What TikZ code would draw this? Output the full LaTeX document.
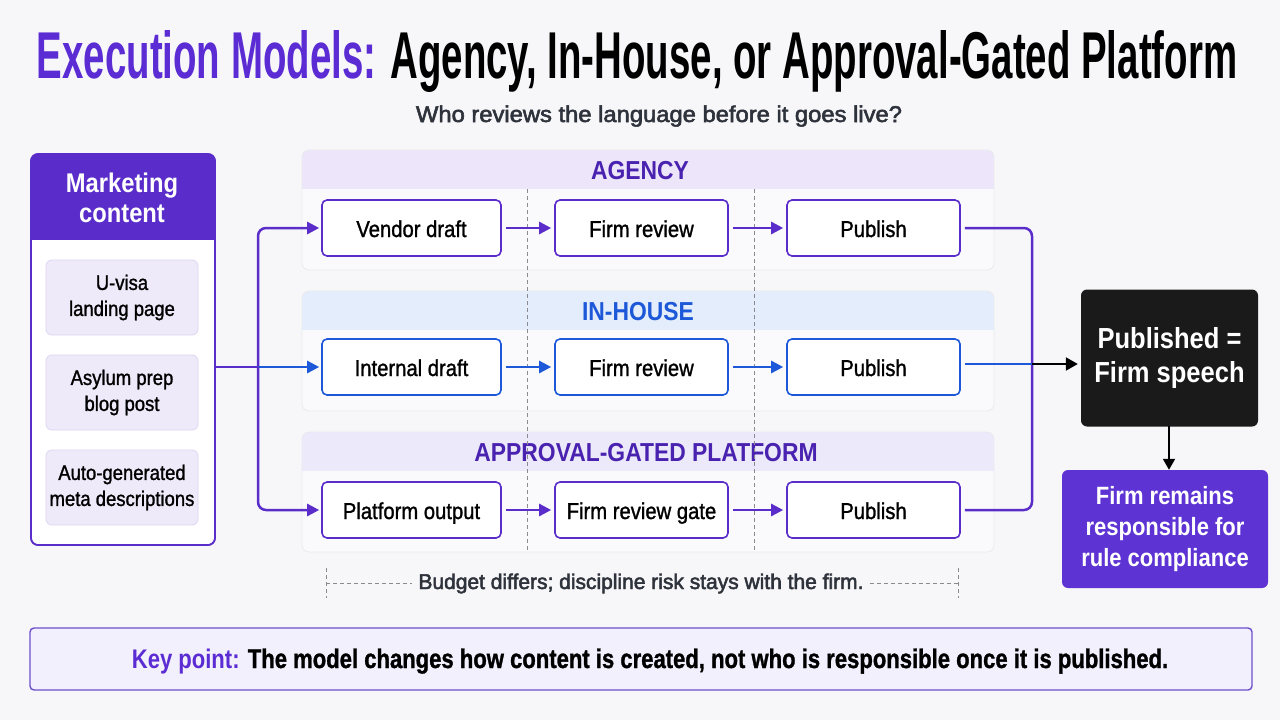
\documentclass[tikz,border=0pt]{standalone}
\usepackage{fontspec}
\setmainfont[FakeStretch=0.88]{Liberation Sans}
\newfontfamily\medf[FakeStretch=0.88,RawFeature={embolden=1.2}]{Liberation Sans}
\newfontfamily\semif[FakeStretch=0.88,RawFeature={embolden=2.2}]{Liberation Sans}
\usetikzlibrary{arrows.meta,calc}
\definecolor{bg}{HTML}{F7F7F9}
\definecolor{pur}{HTML}{5A2DCB}
\definecolor{ttl}{HTML}{5B2BD3}
\definecolor{blu}{HTML}{1D58D8}
\definecolor{hdrA}{HTML}{EDE6FA}
\definecolor{hdrB}{HTML}{E3EDFC}
\definecolor{hdrC}{HTML}{EBE9FA}
\definecolor{lanebody}{HTML}{FAFAFC}
\definecolor{laneline}{HTML}{EAEAF0}
\definecolor{itemfill}{HTML}{EEEAF9}
\definecolor{itemline}{HTML}{DDD6F1}
\definecolor{kpfill}{HTML}{F3F0FD}
\definecolor{kpline}{HTML}{6B4FCB}
\definecolor{dark}{HTML}{1A1A1A}
\definecolor{subc}{HTML}{2E323B}
\definecolor{firmc}{HTML}{5E33D3}
\definecolor{laneA}{HTML}{4A22B0}
\definecolor{sepc}{HTML}{8A8A90}
\begin{document}
\begin{tikzpicture}[x=1pt,y=-1pt,
  stepbox/.style={draw, rounded corners=5pt, fill=white, line width=1.6pt,
    minimum height=56pt, inner sep=0pt, text height=20pt, text depth=2pt,
    font=\medf\fontsize{23}{26}\selectfont},
  itembox/.style={draw=itemline, fill=itemfill, rounded corners=6pt, line width=0.8pt,
    minimum width=152pt, minimum height=75pt, inner sep=0pt, align=center,
    font=\medf\fontsize{21}{26}\selectfont},
  lanehdr/.style={font=\bfseries\fontsize{26}{28}\selectfont, inner sep=0pt},
  tip/.style={-{Triangle[length=12pt,width=12pt]}},
  flowP/.style={draw=pur, line width=2.5pt, tip},
  flowB/.style={draw=blu, line width=2.5pt, tip},
  sepline/.style={draw=sepc, line width=0.9pt, dash pattern=on 4pt off 3pt},
]
\useasboundingbox (0,0) rectangle (1280,720);
\fill[bg] (0,0) rectangle (1280,720);

% Title
\node[anchor=base, inner sep=0pt] (title) at (637,78)
  {\resizebox{1200pt}{48pt}{\bfseries\color{ttl}Execution Models: \color{black}Agency, In-House, or Approval-Gated Platform}};
\node[anchor=base, inner sep=0pt] (subtitle) at (659,122)
  {\resizebox{486pt}{16.5pt}{\semif\color{subc}Who reviews the language before it goes live?}};

% Left panel
\node[draw=pur, line width=1.6pt, fill=white, rounded corners=7pt,
  minimum width=184pt, minimum height=391pt, inner sep=0pt] (mc) at (123,349.5) {};
\begin{scope}
  \clip[rounded corners=7pt] (31,154) rectangle (215,545);
  \fill[pur] (31,154) rectangle (215,240);
\end{scope}
\draw[pur, line width=1.6pt, rounded corners=7pt] (31,154) rectangle (215,545);
\node[align=center, text=white, font=\bfseries\fontsize{27}{30}\selectfont, inner sep=0pt]
  (mchead) at (122,198) {Marketing\\content};
\node[itembox] (i1) at (122,297.5) {U-visa\\landing page};
\node[itembox] (i2) at (122,392.5) {Asylum prep\\blog post};
\node[itembox] (i3) at (122,487.5) {Auto-generated\\meta descriptions};

% Lanes
\foreach \top/\hc in {150/hdrA, 291/hdrB, 432/hdrC}{
  \fill[lanebody, rounded corners=7pt] (302,\top) rectangle (994,\top+120);
  \begin{scope}
    \clip[rounded corners=7pt] (302,\top) rectangle (994,\top+120);
    \fill[\hc] (302,\top) rectangle (994,\top+39);
  \end{scope}
  \draw[laneline, line width=0.8pt, rounded corners=7pt] (302,\top) rectangle (994,\top+120);
}
\node[lanehdr, text=laneA] (hA) at (640,171) {AGENCY};
\node[lanehdr, text=blu] (hB) at (638,312) {IN-HOUSE};
\node[lanehdr, text=laneA] (hC) at (646,453) {APPROVAL-GATED PLATFORM};

% Column separators
\draw[sepline] (527,189) -- (527,552);
\draw[sepline] (754,189) -- (754,552);

% Step boxes
\node[stepbox, draw=pur, minimum width=179pt] (a1) at (411.5,228) {Vendor draft};
\node[stepbox, draw=pur, minimum width=173pt] (a2) at (641.5,228) {Firm review};
\node[stepbox, draw=pur, minimum width=173pt] (a3) at (873.5,228) {Publish};
\node[stepbox, draw=blu, minimum width=179pt] (b1) at (411.5,367) {Internal draft};
\node[stepbox, draw=blu, minimum width=173pt] (b2) at (641.5,367) {Firm review};
\node[stepbox, draw=blu, minimum width=173pt] (b3) at (873.5,367) {Publish};
\node[stepbox, draw=pur, minimum width=179pt] (c1) at (411.5,510) {Platform output};
\node[stepbox, draw=pur, minimum width=173pt] (c2) at (641.5,510) {Firm review gate};
\node[stepbox, draw=pur, minimum width=173pt] (c3) at (873.5,510) {Publish};

% Arrows within lanes
\draw[flowP, shorten <=4pt, shorten >=3pt] (a1) -- (a2);
\draw[flowP, shorten <=4pt, shorten >=3pt] (a2) -- (a3);
\draw[flowB, shorten <=4pt, shorten >=3pt] (b1) -- (b2);
\draw[flowB, shorten <=4pt, shorten >=3pt] (b2) -- (b3);
\draw[flowP, shorten <=4pt, shorten >=3pt] (c1) -- (c2);
\draw[flowP, shorten <=4pt, shorten >=3pt] (c2) -- (c3);

% Fan-out from panel
\coordinate (split) at (258,367);
\draw[pur, line width=2.5pt] (mc.east |- split) -- (split);
\draw[flowP, rounded corners=8pt, shorten >=2pt] (split) |- (a1.west);
\draw[flowB, shorten >=2pt] (split) -- (b1.west);
\draw[flowP, rounded corners=8pt, shorten >=2pt] (split) |- (c1.west);

% Right side
\node[fill=dark, rounded corners=6pt, minimum width=177pt, minimum height=137pt,
  inner sep=0pt, align=center, text=white, font=\bfseries\fontsize{29}{34}\selectfont]
  (pub) at (1169.5,358) {Published =\\Firm speech};
\node[fill=firmc, rounded corners=6pt, minimum width=206pt, minimum height=118pt,
  inner sep=0pt, align=center, text=white, font=\bfseries\fontsize{25}{31}\selectfont]
  (firm) at (1165,529) {Firm remains\\responsible for\\rule compliance};

\coordinate (merge) at (1032,364);
\draw[pur, line width=2.5pt, rounded corners=8pt, shorten <=4pt] (a3.east) -| (merge);
\draw[pur, line width=2.5pt, rounded corners=8pt, shorten <=4pt] (c3.east) -| (merge);
\draw[blu, line width=2.5pt, shorten <=4pt] (b3.east |- merge) -- (merge);
\draw[black, line width=2.2pt, -{Triangle[length=12pt,width=13pt]}, shorten >=3pt] (merge) -- (merge -| pub.west);
\coordinate (pubbot) at (1169,426);
\draw[black, line width=1.8pt, -{Triangle[length=11pt,width=12pt]}] (pubbot) -- (pubbot |- firm.north);

% Footnote bracket
\node[anchor=base, inner sep=0pt] (note) at (641,589)
  {\resizebox{445pt}{15.5pt}{\semif\color{subc}Budget differs; discipline risk stays with the firm.}};
\coordinate (bl) at (326,583);
\coordinate (br) at (958,583);
\draw[sepline] (326,568) -- (326,598);
\draw[sepline] (958,568) -- (958,598);
\draw[sepline] (bl) -- ([xshift=-6pt]note.west |- bl);
\draw[sepline] ([xshift=6pt]note.east |- br) -- (br);

% Key point
\node[draw=kpline, fill=kpfill, line width=1.4pt, rounded corners=4pt,
  minimum width=1222pt, minimum height=62pt, inner sep=0pt] (kp) at (641,659) {};
\node[anchor=base, inner sep=0pt] (kptext) at (650,668)
  {\resizebox{1036pt}{19.5pt}{\bfseries\color{ttl}Key point: \medf\color{black}The model changes how content is created, not who is responsible once it is published.}};
\end{tikzpicture}
\end{document}
